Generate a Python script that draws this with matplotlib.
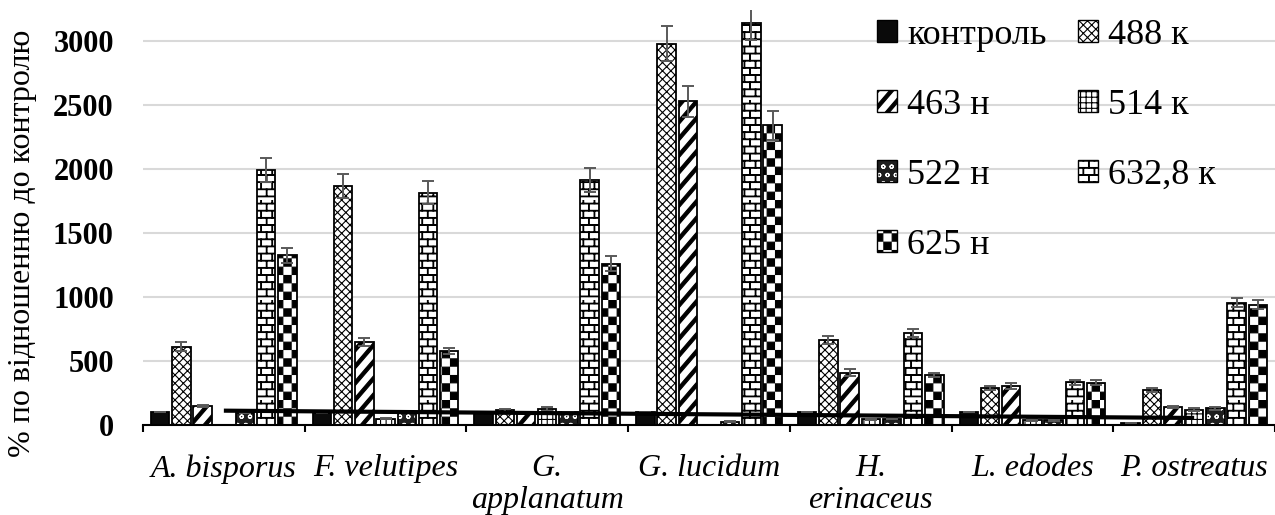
import warnings
warnings.filterwarnings("ignore")
import numpy as np
import matplotlib
matplotlib.use("Agg")
import matplotlib.pyplot as plt
import matplotlib.hatch as mhatch
import matplotlib.patches as mpatches
from matplotlib.path import Path

# ---------------- data ----------------
categories = ["A. bisporus", "F. velutipes", "G.\napplanatum", "G. lucidum",
              "H.\nerinaceus", "L. edodes", "P. ostreatus"]
series_names = ["контроль", "488 к", "463 н", "514 к", "522 н", "632,8 к", "625 н"]

v_control = [105, 95, 100, 100, 100, 100, 15]
v_488 = [610, 1865, 115, 2980, 665, 290, 275]
v_463 = [148, 650, 100, 2530, 410, 305, 140]
v_514 = [0, 50, 125, 0, 45, 40, 120]
v_522 = [90, 95, 100, 25, 50, 40, 130]
v_632 = [1990, 1815, 1915, 3140, 720, 335, 955]
v_625 = [1325, 580, 1260, 2340, 390, 330, 940]

e_control = [0, 0, 0, 0, 0, 0, 0]
e_488 = [35, 95, 10, 135, 30, 15, 15]
e_463 = [10, 30, 5, 120, 25, 20, 10]
e_514 = [0, 5, 15, 0, 5, 5, 10]
e_522 = [0, 0, 0, 5, 5, 5, 10]
e_632 = [94, 90, 95, 130, 30, 20, 35]
e_625 = [60, 25, 60, 110, 15, 20, 35]

trend_values = [112, 55]   # linear trend line (start, end), on the 514 к series positions

y_ticks = [0, 500, 1000, 1500, 2000, 2500, 3000]

values = [v_control, v_488, v_463, v_514, v_522, v_632, v_625]
errors = [e_control, e_488, e_463, e_514, e_522, e_632, e_625]


# ---------------- custom hatch patterns ----------------
class _PolyHatch(mhatch.HatchPatternBase):
    char = ''

    def __init__(self, hatch, density):
        self.polys = self._polys() if (self.char and self.char in hatch) else []
        self.num_vertices = sum(len(p) + 1 for p in self.polys)

    def _polys(self):
        return []

    def set_vertices_and_codes(self, vertices, codes):
        i = 0
        for p in self.polys:
            n = len(p)
            vertices[i:i + n] = p
            vertices[i + n] = p[0]
            codes[i] = Path.MOVETO
            codes[i + 1:i + n] = Path.LINETO
            codes[i + n] = Path.CLOSEPOLY
            i += n + 1


class CheckerHatch(_PolyHatch):
    char = 'O'

    def _polys(self):
        n = 12
        c = 1.0 / n
        e = 0.005
        polys = []
        for i in range(n):
            for j in range(n):
                if (i + j) % 2 == 0:
                    x0, y0 = i * c + e, j * c + e
                    d = c - 2 * e
                    polys.append([(x0, y0), (x0 + d, y0), (x0 + d, y0 + d), (x0, y0 + d)])
        return polys


class StripeHatch(_PolyHatch):
    char = '.'

    def _polys(self):
        n = 6
        s = 7 / 6
        w = 0.05
        polys = []
        for k in range(-9, n + 2):
            c = k / n
            polys.append([(0, c), (1, c + s), (1, c + s + w), (0, c + w)])
        return polys


class BrickHatch(_PolyHatch):
    char = '*'

    def _polys(self):
        rows, cols, t = 14, 9, 0.007
        h = 1.0 / rows
        b = 1.0 / cols
        polys = []
        for r in range(rows):
            y = r * h + h / 2
            polys.append([(0, y - t / 2), (1, y - t / 2), (1, y + t / 2), (0, y + t / 2)])
            off = b / 2 if r % 2 else 0.0
            for c in range(-1, cols + 1):
                x = c * b + off
                polys.append([(x - t / 2, y), (x + t / 2, y), (x + t / 2, y + h), (x - t / 2, y + h)])
        return polys


if hasattr(mhatch, "_hatch_types"):
    mhatch._hatch_types[:] = [mhatch.HorizontalHatch, mhatch.VerticalHatch,
                              mhatch.NorthEastHatch, mhatch.SouthEastHatch,
                              mhatch.SmallCircles, CheckerHatch, StripeHatch, BrickHatch]

plt.rcParams['hatch.linewidth'] = 0.8
plt.rcParams['font.family'] = ['Liberation Serif', 'DejaVu Serif']

styles = [
    dict(fc='#0a0a0a', hatch=None, hc='black'),
    dict(fc='white', hatch='xxxx', hc='black'),
    dict(fc='white', hatch='.', hc='black'),
    dict(fc='white', hatch='+++', hc='black'),
    dict(fc='#1e1e1e', hatch='oo', hc='white'),
    dict(fc='white', hatch='*', hc='black'),
    dict(fc='white', hatch='O', hc='black'),
]

# ---------------- figure ----------------
W, H = 1275, 515
fig = plt.figure(figsize=(W / 100, H / 100), dpi=100)
ax_left, ax_bottom, ax_top = 143, 425, 10
ax = fig.add_axes([ax_left / W, (H - ax_bottom) / H, (W - ax_left) / W, (ax_bottom - ax_top) / H])

group_px = 162.5
x = np.arange(len(categories))
pitch = 21.3 / group_px
width = 18.5 / group_px
nser = len(series_names)

handles = []
for j, (vals, errs, st) in enumerate(zip(values, errors, styles)):
    xpos = x + (j - (nser - 1) / 2) * pitch
    ax.bar(xpos, vals, width, color=st['fc'], edgecolor=st['hc'], linewidth=0,
           hatch=st['hatch'], zorder=2)
    ax.bar(xpos, vals, width, fill=False, edgecolor='black', linewidth=1.3, zorder=2.2)
    ax.errorbar(xpos, vals, yerr=errs, fmt='none', ecolor='#595959', elinewidth=1.4,
                capsize=4.3, capthick=1.4, zorder=3)
    h1 = mpatches.Patch(facecolor=st['fc'], edgecolor=st['hc'], linewidth=0, hatch=st['hatch'])
    h2 = mpatches.Patch(fill=False, edgecolor='black', linewidth=1.0)
    handles.append((h1, h2))

# trend line over the 514 к series positions
trend_x = [x[0] + (3 - (nser - 1) / 2) * pitch, x[-1] + (3 - (nser - 1) / 2) * pitch]
ax.plot(trend_x, trend_values, color='black', linewidth=3.0, solid_capstyle='butt', zorder=5)

ax.set_xlim(-0.5, (W - ax_left) / group_px - 0.5)
ax.set_ylim(0, (ax_bottom - ax_top) * 500 / 64)

for s in ['top', 'right', 'left']:
    ax.spines[s].set_visible(False)
ax.spines['bottom'].set_linewidth(1.5)
ax.spines['bottom'].set_color('black')
ax.spines['bottom'].set_zorder(6)

ax.set_xticks(np.arange(len(categories) + 1) - 0.5)
ax.set_xticklabels([])
ax.tick_params(axis='x', which='major', length=5, width=1.5, color='black', direction='out')
ax.set_xticks(x, minor=True)
ax.set_xticklabels(categories, minor=True, fontsize=23, style='italic', linespacing=1.12)
ax.tick_params(axis='x', which='minor', length=0, pad=21)

ax.set_yticks(y_ticks)
ax.set_yticklabels([str(v) for v in y_ticks], fontsize=22, fontweight='bold')
ax.tick_params(axis='y', length=0, pad=21)
ax.grid(axis='y', color='#d9d9d9', linewidth=1.5)
ax.set_axisbelow(True)

fig.text(23 / W, 1 - 243 / H, "% по відношенню до контролю", rotation=90,
         fontsize=23, ha='center', va='center')

order = [0, 2, 4, 6, 1, 3, 5]
leg = fig.legend([handles[i] for i in order], [series_names[i] for i in order],
                 loc='upper left', bbox_to_anchor=(877 / W, 1 - 19 / H), ncol=2,
                 frameon=False, fontsize=26, handlelength=0.56, handleheight=0.56,
                 handletextpad=0.28, columnspacing=0.85, labelspacing=1.02,
                 borderpad=0, borderaxespad=0)

fig.savefig("out.png", dpi=100)
